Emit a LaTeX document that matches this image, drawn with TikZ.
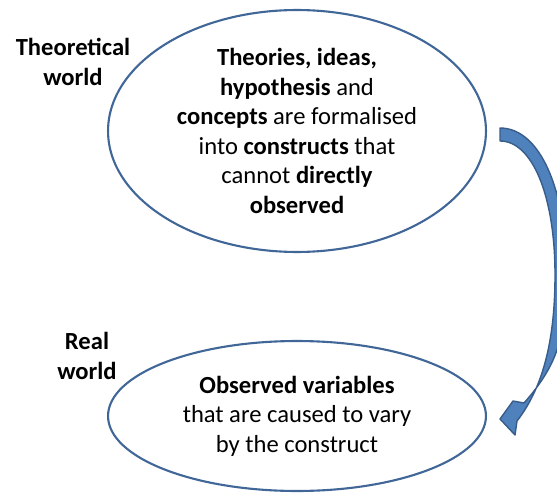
\documentclass[tikz,border=0pt]{standalone}
\usepackage{fontspec}
\setmainfont{Carlito}
\usepackage{tikz}
\usetikzlibrary{shapes.geometric}
\definecolor{ellblue}{RGB}{65,103,152}
\definecolor{arrowfill}{RGB}{79,129,189}
\definecolor{arrowline}{RGB}{56,93,138}
\tikzset{
	world/.style={draw=none,align=center,font=\fontsize{14}{16.8}\selectfont\bfseries},
	bubble/.style={draw=ellblue,ellipse,line width=1.2pt,align=center,inner sep=0pt,
		font=\fontsize{14}{16.8}\selectfont},
	bigarrow/.style={draw=arrowline,fill=arrowfill,line width=.8pt,line join=round}
}

\begin{document}
\begin{tikzpicture}[x = {(0.02cm,0cm)},
                    y = {(0cm,-0.02cm)}]

\useasboundingbox (0,0) rectangle (557,493);

\node[bubble,minimum width=7.56cm,minimum height=4.84cm] (theory) at (297,131)
	{\textbf{Theories, ideas,}\\ \textbf{hypothesis} and\\ \textbf{concepts} are formalised\\
	 into \textbf{constructs} that\\ cannot \textbf{directly}\\ \textbf{observed}};
\node[bubble,minimum width=7.56cm,minimum height=3cm] (real) at (297,416)
	{\textbf{Observed variables}\\ that are caused to vary\\ by the construct};

\node[world] (theorylabel) at (73,62) {Theoretical\\ world};
\node[world] (reallabel) at (87,356) {Real\\ world};

% curved arrow from theory down to real
\coordinate (astart) at (500,134);
\coordinate (atip) at (500,419);

\draw[bigarrow] (500,128) .. controls (540,128) and (566,190) .. (566,270)
	.. controls (566,330) and (562,360) .. (524,403)
	-- (513,401) -- (atip) -- (515,435) -- (517,421)
	.. controls (545,385) and (555,335) .. (555,275)
	.. controls (555,195) and (532,141) .. (500,141) -- cycle;

\end{tikzpicture}
\end{document}
